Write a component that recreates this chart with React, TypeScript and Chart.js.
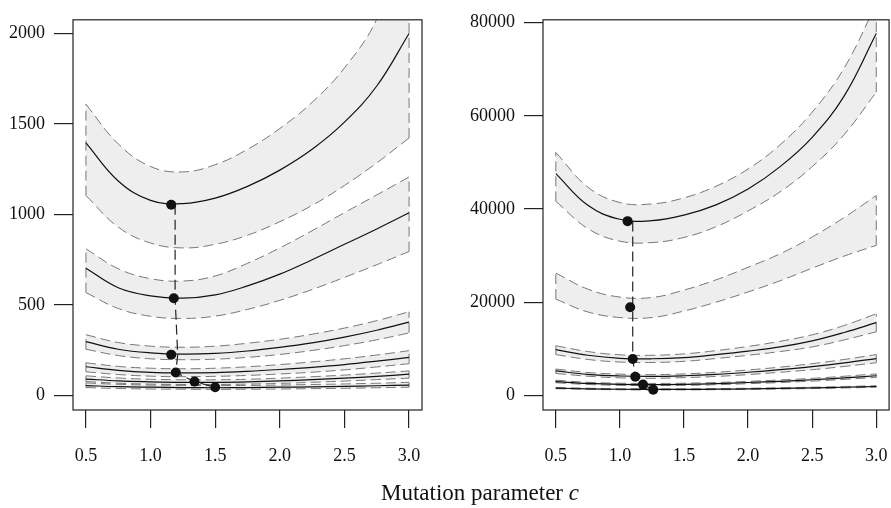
import React, { useEffect, useRef } from "react";
import { Chart, registerables } from "chart.js";
Chart.register(...registerables);

// ---------- shared ----------
const cValues = [0.5, 0.75, 1.0, 1.25, 1.5, 1.75, 2.0, 2.25, 2.5, 2.75, 3.0];
const xTicks = [0.5, 1.0, 1.5, 2.0, 2.5, 3.0];
const leftYTicks = [0, 500, 1000, 1500, 2000];
const rightYTicks = [0, 20000, 40000, 60000, 80000];
const xTitle = "Mutation parameter ";
const xTitleSymbol = "c";

// ---------- left panel ----------
const L1Upper = [1609, 1390, 1265, 1235, 1275, 1360, 1475, 1620, 1810, 2080, 2577];
const L1Mean = [1396, 1185, 1078, 1060, 1090, 1155, 1245, 1360, 1510, 1710, 2000];
const L1Lower = [1104, 930, 842, 815, 835, 885, 960, 1050, 1160, 1285, 1423];

const L2Upper = [810, 700, 645, 632, 660, 730, 815, 910, 1010, 1108, 1207];
const L2Mean = [703, 595, 550, 537, 555, 605, 670, 750, 835, 920, 1009];
const L2Lower = [568, 480, 437, 425, 438, 475, 525, 585, 652, 722, 795];

const L3Upper = [335, 292, 272, 266, 272, 288, 310, 338, 372, 413, 462];
const L3Mean = [297, 255, 235, 228, 232, 245, 265, 290, 322, 360, 405];
const L3Lower = [255, 220, 202, 197, 200, 210, 226, 248, 275, 307, 345];

const L4Upper = [180, 160, 150, 147, 150, 158, 170, 185, 202, 223, 247];
const L4Mean = [158, 138, 127, 124, 126, 133, 143, 155, 170, 189, 210];
const L4Lower = [130, 115, 106, 103, 105, 110, 118, 128, 141, 157, 175];

const L5Upper = [108, 96, 89, 86, 86, 89, 95, 103, 112, 123, 135];
const L5Mean = [90, 80, 75, 72, 72, 75, 80, 87, 95, 105, 117];
const L5Lower = [76, 67, 62, 60, 60, 62, 66, 72, 79, 87, 95];

const L6Upper = [69, 61, 57, 55, 54, 55, 57, 60, 63, 67, 72];
const L6Mean = [54, 48, 45, 43, 42, 43, 45, 47, 50, 53, 57];
const L6Lower = [43, 38, 35, 34, 33, 34, 35, 37, 39, 42, 45];

const leftPointC = [1.16, 1.18, 1.16, 1.195, 1.34, 1.5];
const leftPointY = [1054, 537, 225, 126, 76, 45];
const leftPathC = [1.19, 1.19, 1.21, 1.195, 1.34, 1.5];
const leftPathY = [1054, 537, 225, 126, 76, 45];

// ---------- right panel ----------
const R1Upper = [52150, 44700, 41400, 41100, 42400, 44900, 48600, 53800, 60800, 70300, 84000];
const R1Mean = [47600, 40800, 37800, 37500, 38700, 40900, 44300, 49100, 55400, 64300, 77700];
const R1Lower = [41650, 35800, 33100, 32800, 33900, 36200, 39600, 43700, 49100, 56000, 65100];

const R2Upper = [26250, 22800, 21100, 21000, 22600, 24800, 27500, 30400, 34000, 38200, 42900];
const R2Lower = [20650, 17900, 16700, 16700, 18100, 20000, 22200, 24600, 27300, 29900, 32200];

const R3Upper = [10650, 9400, 8700, 8600, 8900, 9600, 10500, 11600, 13000, 15000, 17500];
const R3Mean = [9800, 8600, 7950, 7850, 8100, 8750, 9500, 10400, 11700, 13500, 15600];
const R3Lower = [8750, 7700, 7150, 7050, 7300, 7900, 8600, 9400, 10400, 11900, 13650];

const R4Upper = [5650, 4900, 4550, 4450, 4600, 4950, 5450, 6050, 6800, 7700, 8750];
const R4Mean = [5250, 4500, 4150, 4050, 4200, 4500, 4950, 5500, 6150, 6950, 7900];
const R4Lower = [4700, 4100, 3750, 3650, 3800, 4050, 4450, 4950, 5500, 6200, 7000];

const R5Upper = [3250, 2800, 2600, 2550, 2600, 2750, 3000, 3300, 3650, 4100, 4600];
const R5Mean = [2950, 2550, 2350, 2300, 2350, 2500, 2750, 3000, 3350, 3750, 4200];
const R5Lower = [2700, 2330, 2150, 2100, 2150, 2280, 2500, 2750, 3050, 3420, 3850];

const R6Upper = [1700, 1530, 1420, 1390, 1400, 1450, 1520, 1620, 1740, 1890, 2070];
const R6Mean = [1550, 1400, 1300, 1270, 1280, 1320, 1390, 1480, 1590, 1730, 1900];
const R6Lower = [1420, 1280, 1190, 1160, 1170, 1210, 1270, 1350, 1450, 1580, 1740];

const rightPointC = [1.06, 1.08, 1.1, 1.12, 1.18, 1.26];
const rightPointY = [37400, 18900, 7800, 4000, 2300, 1200];
const rightPathC = [1.1, 1.1, 1.1, 1.12, 1.18, 1.26];
const rightPathY = [37300, 18900, 7800, 4000, 2300, 1200];

type Band = { lower: number[]; mean: number[] | null; upper: number[] };

const leftBands: Band[] = [
  { lower: L1Lower, mean: L1Mean, upper: L1Upper },
  { lower: L2Lower, mean: L2Mean, upper: L2Upper },
  { lower: L3Lower, mean: L3Mean, upper: L3Upper },
  { lower: L4Lower, mean: L4Mean, upper: L4Upper },
  { lower: L5Lower, mean: L5Mean, upper: L5Upper },
  { lower: L6Lower, mean: L6Mean, upper: L6Upper },
];
const rightBands: Band[] = [
  { lower: R1Lower, mean: R1Mean, upper: R1Upper },
  { lower: R2Lower, mean: null, upper: R2Upper },
  { lower: R3Lower, mean: R3Mean, upper: R3Upper },
  { lower: R4Lower, mean: R4Mean, upper: R4Upper },
  { lower: R5Lower, mean: R5Mean, upper: R5Upper },
  { lower: R6Lower, mean: R6Mean, upper: R6Upper },
];

const FONT = "'Liberation Serif', 'Times New Roman', serif";
const DASH_GREY = "#777777";
const FILL = "#eeeeee";
const TENSION = 0.4;

const toXY = (ys: number[]) => ys.map((y, i) => ({ x: cValues[i], y }));

function buildDatasets(bands: Band[], pc: number[], py: number[], lc: number[], ly: number[]) {
  const ds: any[] = [];
  ds.push({
    data: pc.map((x, i) => ({ x, y: py[i] })),
    showLine: false,
    pointRadius: 5,
    pointBackgroundColor: "#111",
    pointBorderColor: "#111",
    pointBorderWidth: 0,
    order: 0,
  });
  ds.push({
    data: lc.map((x, i) => ({ x, y: ly[i] })),
    borderColor: "#222",
    borderWidth: 1.2,
    borderDash: [10, 5],
    pointRadius: 0,
    tension: 0,
    order: 1,
  });
  const dashed = {
    borderColor: DASH_GREY,
    borderWidth: 1,
    borderDash: [10, 5],
    pointRadius: 0,
    fill: false,
    tension: 0,
    order: 3,
  };
  bands.forEach((b) => {
    const lowerIdx = ds.length;
    ds.push({ ...dashed, data: toXY(b.lower), tension: TENSION });
    ds.push({
      ...dashed,
      data: toXY(b.upper),
      tension: TENSION,
      fill: { target: lowerIdx, above: FILL, below: FILL },
      backgroundColor: FILL,
    });
    const n = cValues.length - 1;
    ds.push({
      ...dashed,
      data: [
        { x: cValues[0], y: b.lower[0] },
        { x: cValues[0], y: b.upper[0] },
      ],
    });
    ds.push({
      ...dashed,
      data: [
        { x: cValues[n], y: b.lower[n] },
        { x: cValues[n], y: b.upper[n] },
      ],
    });
    if (b.mean) {
      ds.push({
        data: toXY(b.mean),
        borderColor: "#111",
        borderWidth: 1.2,
        pointRadius: 0,
        tension: TENSION,
        fill: false,
        order: 2,
      });
    }
  });
  return ds;
}

const boxPlugin = {
  id: "rbox",
  afterDatasetsDraw(chart: any) {
    const { ctx, chartArea } = chart;
    ctx.save();
    ctx.strokeStyle = "#222";
    ctx.lineWidth = 1.2;
    ctx.setLineDash([]);
    ctx.strokeRect(
      chartArea.left,
      chartArea.top,
      chartArea.right - chartArea.left,
      chartArea.bottom - chartArea.top
    );
    ctx.restore();
  },
};

function makeConfig(
  bands: Band[],
  pc: number[],
  py: number[],
  lc: number[],
  ly: number[],
  yMin: number,
  yMax: number,
  yTicks: number[],
  yWidth: number,
  padRight: number
): any {
  return {
    type: "line",
    data: { datasets: buildDatasets(bands, pc, py, lc, ly) },
    plugins: [boxPlugin],
    options: {
      responsive: false,
      animation: false,
      devicePixelRatio: 1,
      layout: { padding: { top: 11, right: padRight, left: 0, bottom: 0 } },
      plugins: {
        legend: { display: false },
        tooltip: { enabled: false },
        filler: { drawTime: "beforeDatasetsDraw" },
      },
      scales: {
        x: {
          type: "linear",
          min: 0.4,
          max: 3.1,
          afterBuildTicks: (s: any) => {
            s.ticks = xTicks.map((v) => ({ value: v }));
          },
          afterFit: (s: any) => {
            s.height = 98;
          },
          grid: { drawOnChartArea: false, drawTicks: true, tickLength: 18, color: "#222", lineWidth: 1.2 },
          border: { display: false },
          ticks: {
            padding: 17,
            autoSkip: false,
            maxRotation: 0,
            color: "#111",
            font: { family: FONT, size: 18 },
            callback: (v: any) => Number(v).toFixed(1),
          },
        },
        y: {
          type: "linear",
          min: yMin,
          max: yMax,
          afterBuildTicks: (s: any) => {
            s.ticks = yTicks.map((v) => ({ value: v }));
          },
          afterFit: (s: any) => {
            s.width = yWidth;
          },
          grid: { drawOnChartArea: false, drawTicks: true, tickLength: 19, color: "#222", lineWidth: 1.2 },
          border: { display: false },
          ticks: {
            padding: 9,
            autoSkip: false,
            color: "#111",
            font: { family: FONT, size: 18 },
            callback: (v: any) => String(v),
          },
        },
      },
    },
  };
}

function Panel(props: { left: number; width: number; config: () => any }) {
  const ref = useRef<HTMLCanvasElement | null>(null);
  useEffect(() => {
    if (!ref.current) return;
    const chart = new Chart(ref.current, props.config());
    return () => chart.destroy();
  }, []);
  return (
    <canvas
      ref={ref}
      width={props.width}
      height={508}
      style={{ position: "absolute", left: props.left, top: 0, width: props.width, height: 508 }}
    />
  );
}

export default function App() {
  return (
    <div
      style={{
        position: "fixed",
        left: 0,
        top: 0,
        width: 891,
        height: 508,
        overflow: "hidden",
        background: "#fff",
      }}
    >
      <Panel
        left={0}
        width={445}
        config={() =>
          makeConfig(leftBands, leftPointC, leftPointY, leftPathC, leftPathY, -81, 2076, leftYTicks, 73, 23)
        }
      />
      <Panel
        left={445}
        width={460}
        config={() =>
          makeConfig(rightBands, rightPointC, rightPointY, rightPathC, rightPathY, -3150, 80630, rightYTicks, 98, 13)
        }
      />
      <div
        style={{
          position: "absolute",
          left: 480,
          top: 481,
          transform: "translateX(-50%)",
          fontFamily: FONT,
          fontSize: 23,
          lineHeight: 1,
          whiteSpace: "nowrap",
          color: "#111",
        }}
      >
        {xTitle}
        <i>{xTitleSymbol}</i>
      </div>
    </div>
  );
}
